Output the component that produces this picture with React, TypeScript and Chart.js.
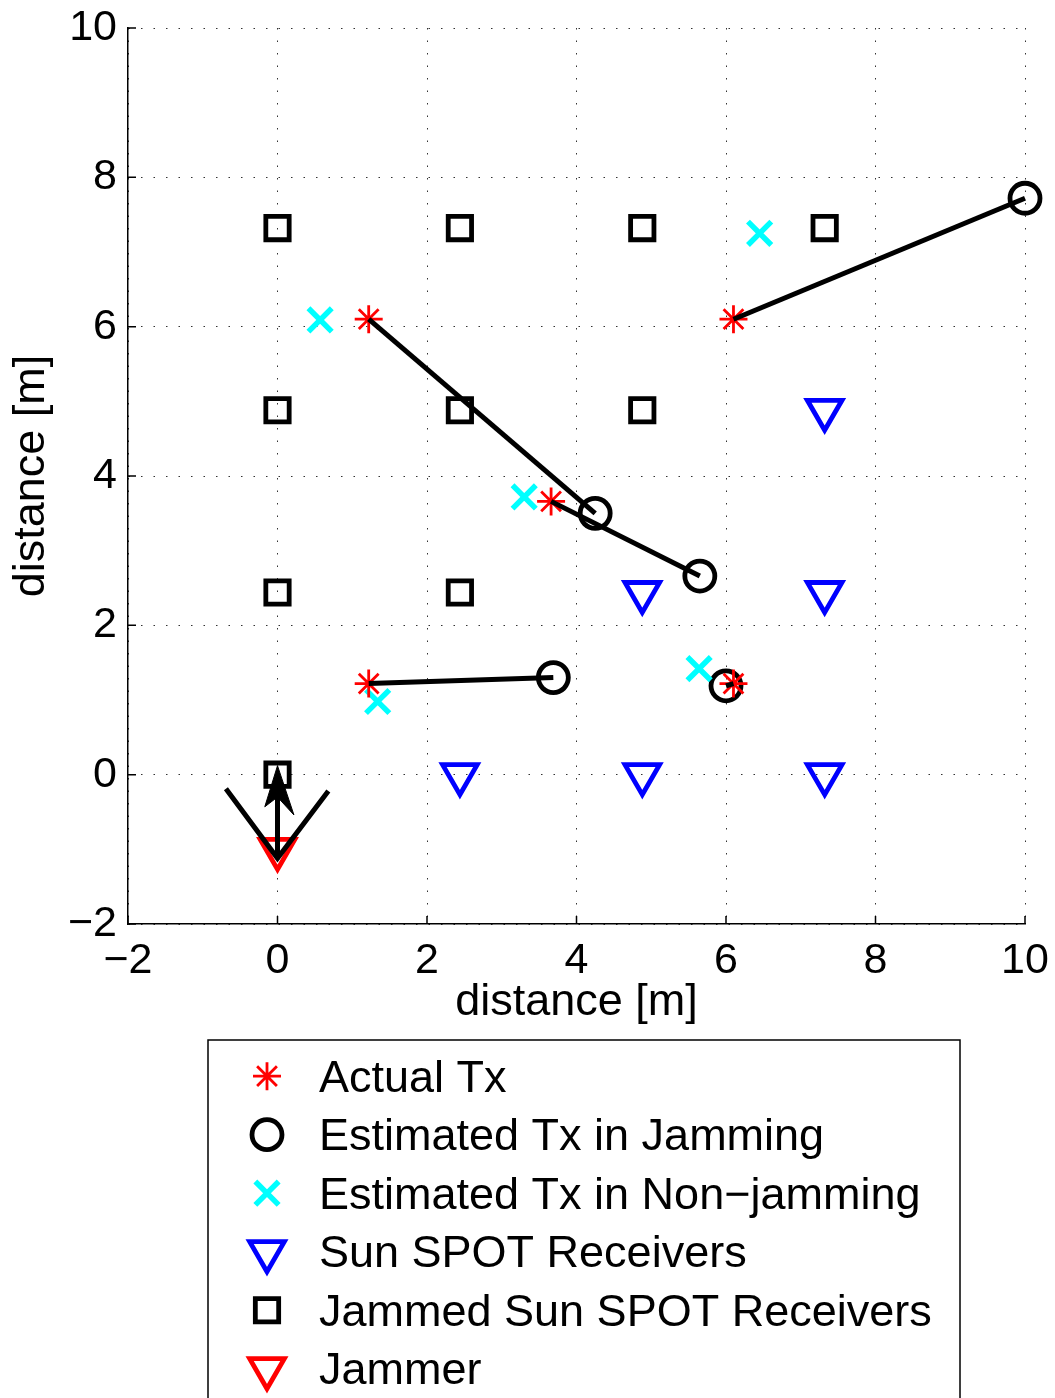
import React, { useEffect, useRef } from 'react';
import { Chart, registerables, PointElement } from 'chart.js';

Chart.register(...registerables);

// ---------- data ----------
const xTickValues = [-2, 0, 2, 4, 6, 8, 10];
const yTickValues = [-2, 0, 2, 4, 6, 8, 10];
const xAxisTitle = 'distance [m]';
const yAxisTitle = 'distance [m]';

const actualTx = [[1.22, 6.1], [6.1, 6.1], [3.66, 3.66], [1.22, 1.22], [6.1, 1.22]];
const estTxJamming = [[4.25, 3.5], [10.0, 7.72], [5.65, 2.66], [3.69, 1.3], [6.0, 1.19]];
const estTxNonJamming = [[0.57, 6.09], [6.45, 7.25], [3.3, 3.72], [1.34, 0.98], [5.64, 1.42]];
const receivers = [[7.32, 4.88], [4.88, 2.44], [7.32, 2.44], [2.44, 0], [4.88, 0], [7.32, 0]];
const jammedReceivers = [
  [0, 7.32], [2.44, 7.32], [4.88, 7.32], [7.32, 7.32],
  [0, 4.88], [2.44, 4.88], [4.88, 4.88],
  [0, 2.44], [2.44, 2.44],
  [0, 0],
];
const jammer = [[0, -1.0]];
const jammerV = [[-0.69, -0.19], [0, -1.12], [0.68, -0.22]];
const jammerArrow = [[0, -1.12], [0, -0.1]];
const arrowHead = [[-0.17, -0.43], [0, 0.12], [0.22, -0.54], [0, -0.3], [-0.17, -0.43]];

const legendLabels = [
  'Actual Tx',
  'Estimated Tx in Jamming',
  'Estimated Tx in Non\u2212jamming',
  'Sun SPOT Receivers',
  'Jammed Sun SPOT Receivers',
  'Jammer',
];

// ---------- styles ----------
const FONT = '"Liberation Sans", Arial, Helvetica, sans-serif';
const styleActual = { pointStyle: 'star', radius: 14, rotation: 0, borderWidth: 2.8, borderColor: '#ff0000', backgroundColor: 'transparent' };
const styleJam = { pointStyle: 'circle', radius: 15, rotation: 0, borderWidth: 4.8, borderColor: '#000000', backgroundColor: 'transparent' };
const styleNonJam = { pointStyle: 'crossRot', radius: 16.5, rotation: 0, borderWidth: 5.5, borderColor: '#00ffff', backgroundColor: 'transparent' };
const styleRecv = { pointStyle: 'triangle', radius: 20, rotation: 180, borderWidth: 4.8, borderColor: '#0000ff', backgroundColor: 'transparent' };
const styleJammed = { pointStyle: 'rect', radius: 16.5, rotation: 0, borderWidth: 4.8, borderColor: '#000000', backgroundColor: 'transparent' };
const styleJammer = { pointStyle: 'triangle', radius: 20, rotation: 180, borderWidth: 4.8, borderColor: '#ff0000', backgroundColor: 'transparent' };
const legendStyles = [styleActual, styleJam, styleNonJam, styleRecv, styleJammed, styleJammer];

const toPts = (arr: number[][]) => arr.map(([x, y]) => ({ x, y }));
const fmt = (v: number) => (v < 0 ? '\u2212' + Math.abs(v) : String(v));

function markerDataset(label: string, arr: number[][], st: any, order: number) {
  return {
    type: 'scatter' as const,
    label,
    data: toPts(arr),
    order,
    clip: false,
    showLine: false,
    pointStyle: st.pointStyle,
    pointRadius: st.radius,
    pointRotation: st.rotation,
    pointBorderWidth: st.borderWidth,
    pointBorderColor: st.borderColor,
    pointBackgroundColor: st.backgroundColor,
    pointHoverRadius: st.radius,
  };
}

function lineDataset(label: string, arr: number[][], order: number, width = 5, fill: any = false) {
  return {
    type: 'line' as const,
    label,
    data: toPts(arr),
    order,
    clip: false,
    showLine: true,
    borderColor: '#000000',
    backgroundColor: '#000000',
    borderWidth: width,
    pointRadius: 0,
    pointHoverRadius: 0,
    tension: 0,
    fill,
    borderCapStyle: 'butt',
  };
}

const inwardTicks = {
  id: 'inwardTicks',
  afterDatasetsDraw(chart: any) {
    const { ctx, chartArea, scales } = chart;
    ctx.save();
    ctx.strokeStyle = '#000';
    ctx.lineWidth = 1.5;
    ctx.beginPath();
    xTickValues.forEach((v) => {
      const px = scales.x.getPixelForValue(v);
      ctx.moveTo(px, chartArea.bottom);
      ctx.lineTo(px, chartArea.bottom - 8);
    });
    yTickValues.forEach((v) => {
      const py = scales.y.getPixelForValue(v);
      ctx.moveTo(chartArea.left, py);
      ctx.lineTo(chartArea.left + 8, py);
    });
    ctx.stroke();
    ctx.restore();
  },
};

const boxLegend = {
  id: 'boxLegend',
  afterDraw(chart: any) {
    const ctx = chart.ctx;
    ctx.save();
    ctx.strokeStyle = '#000';
    ctx.lineWidth = 1.5;
    ctx.strokeRect(208, 1040, 752, 420);
    const area = { left: 0, top: 0, right: 5000, bottom: 5000 };
    legendLabels.forEach((label, i) => {
      const base = 1091.7 + i * 58.5;
      const cy = base - 15.5;
      const st = legendStyles[i];
      ctx.save();
      const p: any = new (PointElement as any)({ x: 267, y: cy, options: { ...st } });
      p.draw(ctx, area);
      ctx.restore();
      ctx.font = `45px ${FONT}`;
      ctx.fillStyle = '#000000';
      ctx.textAlign = 'left';
      ctx.textBaseline = 'alphabetic';
      ctx.fillText(label, 319, base);
    });
    ctx.restore();
  },
};

export default function App() {
  const canvasRef = useRef<HTMLCanvasElement | null>(null);

  useEffect(() => {
    if (!canvasRef.current) return;
    const tickFont = { family: FONT, size: 43 };
    const titleFont = { family: FONT, size: 45 };
    const gridCfg = { color: 'rgba(0,0,0,0.8)', lineWidth: 1, drawTicks: false };
    const borderCfg = { display: true, color: '#000', width: 1.5, dash: [1.5, 11] };

    const segments = actualTx.map((a, i) => lineDataset('seg' + i, [a, estTxJamming[i]], 3));

    const chart = new Chart(canvasRef.current, {
      type: 'scatter',
      data: {
        datasets: [
          lineDataset('arrowHead', arrowHead, 0, 1, 'shape'),
          lineDataset('jammerArrow', jammerArrow, 1),
          lineDataset('jammerV', jammerV, 2),
          ...segments,
          markerDataset('Actual Tx', actualTx, styleActual, 4),
          markerDataset('Estimated Tx in Non-jamming', estTxNonJamming, styleNonJam, 5),
          markerDataset('Estimated Tx in Jamming', estTxJamming, styleJam, 6),
          markerDataset('Jammer', jammer, styleJammer, 7),
          markerDataset('Sun SPOT Receivers', receivers, styleRecv, 8),
          markerDataset('Jammed Sun SPOT Receivers', jammedReceivers, styleJammed, 9),
        ] as any,
      },
      options: {
        responsive: false,
        animation: false,
        events: [],
        layout: { padding: { left: 0, top: 28, right: 30, bottom: 368 } },
        plugins: {
          legend: { display: false },
          tooltip: { enabled: false },
        },
        scales: {
          x: {
            type: 'linear',
            position: 'bottom',
            min: -2,
            max: 10,
            afterBuildTicks: (s: any) => { s.ticks = xTickValues.map((v) => ({ value: v })); },
            afterFit: (s: any) => { s.height = 106; s.paddingLeft = 0; s.paddingRight = 0; },
            grid: gridCfg,
            border: borderCfg,
            ticks: { font: tickFont, color: '#000', padding: 11, maxRotation: 0, autoSkip: false, callback: (v: any) => fmt(Number(v)) },
            title: { display: true, text: xAxisTitle, font: titleFont, color: '#000', padding: { top: 0, bottom: 0 } },
          },
          y: {
            type: 'linear',
            position: 'left',
            min: -2,
            max: 10,
            afterBuildTicks: (s: any) => { s.ticks = yTickValues.map((v) => ({ value: v })); },
            afterFit: (s: any) => { s.width = 128; s.paddingTop = 0; s.paddingBottom = 0; },
            grid: gridCfg,
            border: borderCfg,
            ticks: { font: tickFont, color: '#000', padding: 11, autoSkip: false, callback: (v: any) => fmt(Number(v)) },
            title: { display: true, text: yAxisTitle, font: titleFont, color: '#000', padding: { top: 5, bottom: 0 } },
          },
        },
      } as any,
      plugins: [inwardTicks, boxLegend],
    });
    return () => chart.destroy();
  }, []);

  return (
    <div style={{ position: 'absolute', left: 0, top: 0, width: 1055, height: 1398, background: '#fff' }}>
      <canvas ref={canvasRef} width={1055} height={1398} style={{ display: 'block' }} />
    </div>
  );
}
